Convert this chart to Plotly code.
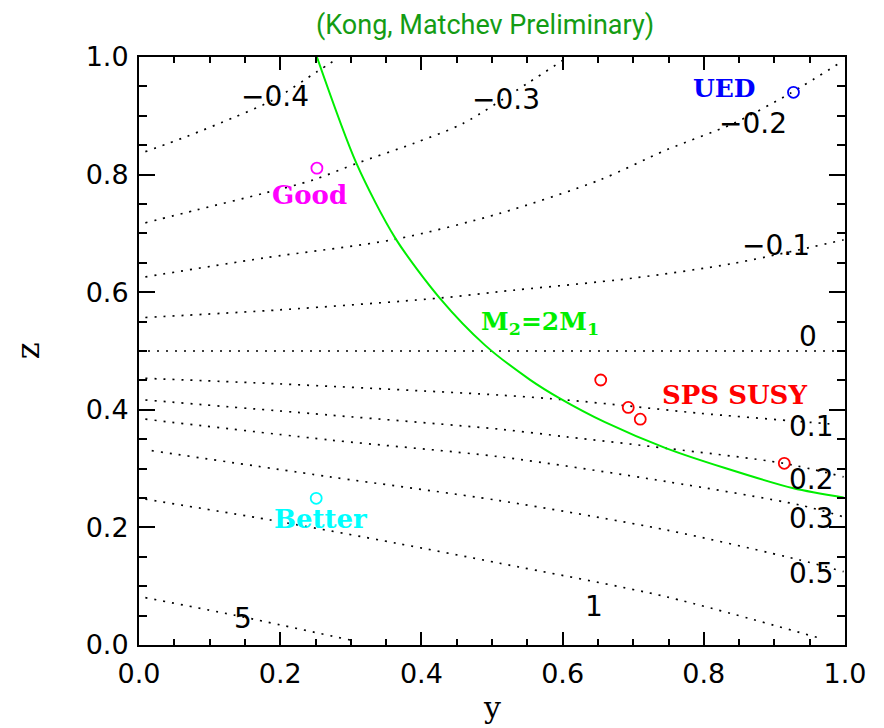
import plotly.graph_objects as go

# ---- contour lines ----
c_m04_y = [0.009, 0.068, 0.134, 0.190, 0.252, 0.282]
c_m04_z = [0.839, 0.865, 0.897, 0.927, 0.975, 0.998]

c_m03_y = [0.009, 0.082, 0.176, 0.247, 0.308, 0.389, 0.459, 0.550, 0.601]
c_m03_z = [0.718, 0.740, 0.768, 0.791, 0.819, 0.853, 0.887, 0.955, 0.995]

c_m02_y = [0.009, 0.176, 0.363, 0.511, 0.653, 0.747, 0.842, 0.922, 0.998]
c_m02_z = [0.626, 0.658, 0.690, 0.734, 0.791, 0.842, 0.887, 0.938, 0.994]

c_m01_y = [0.009, 0.200, 0.426, 0.511, 0.700, 0.842, 0.998]
c_m01_z = [0.557, 0.570, 0.590, 0.601, 0.624, 0.649, 0.689]

c_0_y = [0.0, 1.0]
c_0_z = [0.5, 0.5]

c_01_y = [0.009, 0.200, 0.511, 0.606, 0.693, 0.795, 0.922, 0.988]
c_01_z = [0.4535, 0.444, 0.425, 0.4167, 0.4065, 0.394, 0.3815, 0.375]

c_02_y = [0.009, 0.2705, 0.511, 0.606, 0.747, 0.913, 0.998]
c_02_z = [0.4167, 0.391, 0.367, 0.354, 0.3345, 0.309, 0.286]

c_03_y = [0.009, 0.2705, 0.511, 0.747, 0.936, 0.998]
c_03_z = [0.384, 0.3486, 0.320, 0.278, 0.238, 0.218]

c_05_y = [0.018, 0.2705, 0.511, 0.747, 0.936, 0.998]
c_05_z = [0.3305, 0.286, 0.2455, 0.1956, 0.1446, 0.1247]

c_1_y = [0.009, 0.186, 0.365, 0.511, 0.747, 0.965]
c_1_z = [0.248, 0.2126, 0.173, 0.139, 0.082, 0.0114]

c_5_y = [0.009, 0.134, 0.299]
c_5_z = [0.0805, 0.051, 0.0085]

contour_labels = ["\u22120.4", "\u22120.3", "\u22120.2", "\u22120.1", "0", "0.1", "0.2", "0.3", "0.5", "1", "5"]
label_y = [0.193, 0.520, 0.870, 0.902, 0.948, 0.953, 0.953, 0.953, 0.953, 0.644, 0.148]
label_z = [0.932, 0.927, 0.887, 0.680, 0.524, 0.371, 0.281, 0.215, 0.122, 0.065, 0.045]

# ---- M2 = 2 M1 curve ----
m_y = [0.252, 0.308, 0.363, 0.426, 0.490, 0.554, 0.596, 0.660, 0.747, 0.830, 0.927, 0.998]
m_z = [1.000, 0.819, 0.692, 0.590, 0.510, 0.451, 0.4195, 0.379, 0.3345, 0.301, 0.2665, 0.251]

# ---- model points ----
good_y, good_z = [0.252], [0.811]
better_y, better_z = [0.251], [0.2495]
ued_y, ued_z = [0.927], [0.940]
sps_y = [0.654, 0.693, 0.710, 0.914]
sps_z = [0.4507, 0.404, 0.384, 0.309]

fig = go.Figure()

contours = [(c_m04_y, c_m04_z), (c_m03_y, c_m03_z), (c_m02_y, c_m02_z), (c_m01_y, c_m01_z),
            (c_0_y, c_0_z), (c_01_y, c_01_z), (c_02_y, c_02_z), (c_03_y, c_03_z),
            (c_05_y, c_05_z), (c_1_y, c_1_z), (c_5_y, c_5_z)]
for cy, cz in contours:
    fig.add_trace(go.Scatter(x=cy, y=cz, mode="lines",
                             line=dict(color="black", width=1.7, dash="2px,7px", shape="spline", smoothing=0.8),
                             hoverinfo="skip", showlegend=False))

fig.add_trace(go.Scatter(x=m_y, y=m_z, mode="lines",
                         line=dict(color="#00ee00", width=2, shape="spline", smoothing=0.8),
                         showlegend=False))

def pts(x, y, color):
    fig.add_trace(go.Scatter(x=x, y=y, mode="markers",
                             marker=dict(symbol="circle-open", size=11, color=color, line=dict(width=1.8, color=color)),
                             showlegend=False))

pts(good_y, good_z, "#ff00ff")
pts(better_y, better_z, "#00ffff")
pts(ued_y, ued_z, "#0000ff")
pts(sps_y, sps_z, "#ff0000")

for t, xx, zz in zip(contour_labels, label_y, label_z):
    fig.add_annotation(x=xx, y=zz, text=t, showarrow=False,
                       font=dict(family="DejaVu Sans", size=28, color="black"),
                       xanchor="center", yanchor="middle")

lab_font = "DejaVu Serif"
fig.add_annotation(x=0.241, y=0.765, text="<b>Good</b>", showarrow=False,
                   font=dict(family=lab_font, size=26, color="#ff00ff"))
fig.add_annotation(x=0.257, y=0.215, text="<b>Better</b>", showarrow=False,
                   font=dict(family=lab_font, size=26, color="#00ffff"))
fig.add_annotation(x=0.830, y=0.947, text="<b>UED</b>", showarrow=False,
                   font=dict(family=lab_font, size=25, color="#0000ff"))
fig.add_annotation(x=0.843, y=0.425, text="<b>SPS SUSY</b>", showarrow=False,
                   font=dict(family=lab_font, size=26, color="#ff0000"))
fig.add_annotation(x=0.568, y=0.547, text="<b>M<sub>2</sub>=2M<sub>1</sub></b>", showarrow=False,
                   font=dict(family=lab_font, size=25, color="#00ee00"))

# axis titles
fig.add_annotation(xref="paper", yref="paper", x=0.5, y=-0.106, text="y", showarrow=False,
                   xanchor="center", yanchor="middle",
                   font=dict(family="DejaVu Serif", size=30, color="black"))
fig.add_annotation(xref="paper", yref="paper", x=-0.157, y=0.5, text="z", showarrow=False,
                   textangle=-90, xanchor="center", yanchor="middle",
                   font=dict(family="DejaVu Serif", size=32, color="black"))

# title as annotation
fig.add_annotation(xref="paper", yref="paper", x=(485 - 139) / 706, y=(637 - 17) / 588,
                   text="(Kong, Matchev Preliminary)", showarrow=False,
                   xanchor="center", yanchor="middle",
                   font=dict(family="Roboto", size=27, color="#149c14"))

axis_common = dict(range=[0, 1], showgrid=False, zeroline=False, showline=True, linecolor="black",
                   linewidth=2, mirror="ticks", ticks="inside", tickcolor="black", tickwidth=1.8,
                   tickvals=[0, 0.2, 0.4, 0.6, 0.8, 1.0],
                   ticktext=["0.0", "0.2", "0.4", "0.6", "0.8", "1.0"],
                   automargin=False,
                   tickfont=dict(family="DejaVu Sans", size=27, color="black"))

fig.update_xaxes(**axis_common, ticklen=13, ticklabelstandoff=4,
                 minor=dict(dtick=0.05, ticklen=6, ticks="inside", tickcolor="black", tickwidth=1.5))
fig.update_yaxes(**axis_common, ticklen=16, ticklabelstandoff=3,
                 minor=dict(dtick=0.05, ticklen=8, ticks="inside", tickcolor="black", tickwidth=1.5))

# page body has an 8px margin, so the figure is 8px smaller and margins shifted accordingly
fig.update_layout(
    width=876, height=720,
    margin=dict(l=131, r=39, t=49, b=83, autoexpand=False),
    plot_bgcolor="white", paper_bgcolor="white",
)

fig.write_html("out.html")
